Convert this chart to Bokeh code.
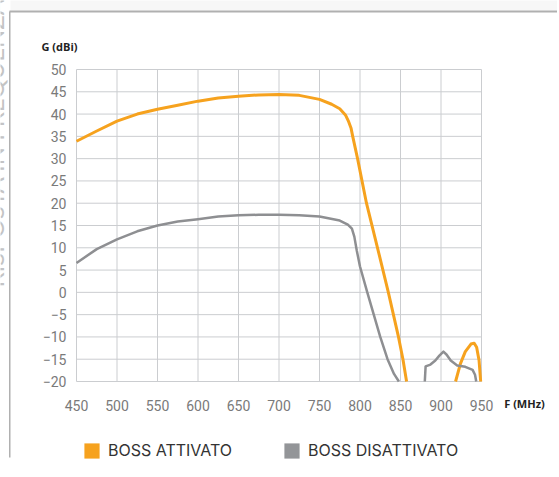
import math
from bokeh.plotting import figure
from bokeh.models import Range1d, FixedTicker, Legend, LegendItem, Label, BoxAnnotation
from bokeh.embed import file_html
from bokeh.resources import INLINE

nan = float("nan")

# BOSS ATTIVATO (orange) - frequency (MHz) / gain (dBi)
on_freq = [450, 475, 500, 525, 550, 575, 600, 625, 650, 675, 700, 725, 750, 765, 775, 782, 786, 789, 791,
           797, 808, 821.6, 835, 847.5, 853, 857.5, nan,
           918, 924, 930, 937, 941, 944, 947, 949]
on_gain = [33.9, 36.2, 38.4, 40.0, 41.1, 42.0, 42.9, 43.6, 44.0, 44.3, 44.4, 44.2, 43.3, 42.2, 41.2, 39.8, 38.3, 36.8, 35.0,
           30.0, 20.0, 10.0, 0.0, -10.0, -15.0, -20.0, nan,
           -20.0, -16.0, -13.3, -11.6, -11.4, -12.3, -15.3, -20.0]

# BOSS DISATTIVATO (grey)
off_freq = [450, 475, 500, 525, 550, 575, 600, 625, 650, 675, 700, 725, 750, 775, 785, 790, 793,
            796, 800, 809, 817, 825, 834, 842, 848, nan,
            880, 881, 887, 893, 898, 903, 907, 912, 920, 930, 939, 942, 943.5]
off_gain = [6.6, 9.7, 11.9, 13.7, 15.0, 15.9, 16.4, 17.0, 17.3, 17.4, 17.4, 17.3, 17.0, 16.1, 15.2, 14.3, 12.5,
            9.4, 5.8, 0.0, -5.0, -10.0, -15.0, -18.3, -20.0, nan,
            -20.0, -16.6, -16.2, -15.3, -14.2, -13.3, -14.0, -15.3, -16.4, -16.7, -17.4, -18.5, -20.0]

x_ticks = [450, 500, 550, 600, 650, 700, 750, 800, 850, 900, 950]
y_ticks = [-20, -15, -10, -5, 0, 5, 10, 15, 20, 25, 30, 35, 40, 45, 50]

series_names = ["BOSS ATTIVATO", "BOSS DISATTIVATO"]
x_title = "F (MHz)"
y_title = "G (dBi)"
side_title = "RISPOSTA IN FREQUENZA"

ORANGE = "#F6A21E"
GREY = "#8E8F92"
SWATCH_GREY = "#939598"
GRID = "#CBCDD0"
TICK = "#7A7A7A"

# ---- layout: the plotting frame covers the whole canvas; the chart box is placed in pixels
W, H = 557, 475
PX_L, PX_R = 76, 481      # pixel columns of the first / last x tick
PY_T, PY_B = 69, 381      # pixel rows of the top / bottom y tick
x0, x1 = x_ticks[0], x_ticks[-1]
y0, y1 = y_ticks[0], y_ticks[-1]
kx = (PX_R - PX_L) / (x1 - x0)
ky = (PY_B - PY_T) / (y1 - y0)


def px2x(px):
    return x0 + (px - PX_L) / kx


def py2y(py):
    return y1 - (py - PY_T) / ky


p = figure(width=W, height=H, output_backend="svg", toolbar_location=None,
           x_range=Range1d(px2x(0), px2x(W)), y_range=Range1d(py2y(H), py2y(0)),
           min_border=0, min_border_left=0, min_border_right=0, min_border_top=0, min_border_bottom=0)
p.outline_line_color = None
p.background_fill_color = "white"
p.border_fill_color = "white"
p.xgrid.visible = False
p.ygrid.visible = False

for ax in (p.xaxis[0], p.yaxis[0]):
    ax.axis_line_color = None
    ax.major_tick_line_color = None
    ax.minor_tick_line_color = None
    ax.major_tick_out = 0
    ax.major_tick_in = 0
    ax.minor_tick_out = 0
    ax.major_label_text_font = "Roboto"
    ax.major_label_text_font_size = "14px"
    ax.major_label_text_color = TICK
p.xaxis[0].ticker = FixedTicker(ticks=x_ticks)
p.yaxis[0].ticker = FixedTicker(ticks=y_ticks)
p.xaxis[0].fixed_location = y0
p.yaxis[0].fixed_location = x0
p.xaxis[0].bounds = (x0, x1)
p.yaxis[0].bounds = (y0, y1)
p.xaxis[0].major_label_standoff = 18
p.yaxis[0].major_label_standoff = 10

# grid lines, one per tick, limited to the chart box
p.segment(x0=x_ticks, y0=[y0] * len(x_ticks), x1=x_ticks, y1=[y1] * len(x_ticks),
          line_color=GRID, line_width=1)
p.segment(x0=[x0] * len(y_ticks), y0=y_ticks, x1=[x1] * len(y_ticks), y1=y_ticks,
          line_color=GRID, line_width=1)

p.line(on_freq, on_gain, line_color=ORANGE, line_width=3, line_join="round", line_cap="butt")
p.line(off_freq, off_gain, line_color=GREY, line_width=2.5, line_join="round", line_cap="butt")

# axis titles
p.add_layout(Label(x=px2x(59), y=py2y(46), text=y_title, text_font="Open Sans", text_font_style="bold",
                   text_font_size="11px", text_color="#222222", text_align="center", text_baseline="middle"))
p.add_layout(Label(x=px2x(524), y=py2y(403), text=x_title, text_font="Open Sans", text_font_style="bold",
                   text_font_size="11px", text_color="#222222", text_align="center", text_baseline="middle"))

# vertical page heading, mostly cut by the left edge
p.add_layout(Label(x=px2x(-6), y=py2y(287), text=side_title, angle=math.pi / 2, text_font="Lato",
                   text_font_size="24px", text_color="#C4C4C4", text_align="left",
                   text_baseline="alphabetic"))

# page box lines (top and left)
p.add_layout(BoxAnnotation(left=px2x(10), right=px2x(W + 5), top=py2y(-2), bottom=py2y(10),
                           fill_color="#F7F7F7", fill_alpha=1, line_color=None))
p.add_layout(BoxAnnotation(left=px2x(9), right=px2x(W + 5), top=py2y(10), bottom=py2y(12),
                           fill_color="#B0B0B0", fill_alpha=1, line_color=None))
p.add_layout(BoxAnnotation(left=px2x(8.5), right=px2x(10), top=py2y(11), bottom=py2y(457),
                           fill_color="#B0B0B0", fill_alpha=1, line_color=None))

# legend swatches (renderers with a single empty point, nothing drawn in the plot)
r_on = p.quad(left=[nan], right=[nan], top=[nan], bottom=[nan], fill_color=ORANGE, line_color=None)
r_off = p.quad(left=[nan], right=[nan], top=[nan], bottom=[nan], fill_color=SWATCH_GREY, line_color=None)

for name, rend, gx in ((series_names[0], r_on, 82), (series_names[1], r_off, 282)):
    lg = Legend(items=[LegendItem(label=name, renderers=[rend])], location=(gx, H - 460),
                orientation="horizontal", padding=0, margin=0, border_line_color=None,
                background_fill_alpha=0, glyph_width=19, glyph_height=19, label_height=19,
                label_standoff=7, label_text_font="Inter", label_text_font_size="16px",
                label_text_color="#333333", label_text_baseline="middle")
    p.add_layout(lg, "center")

open("out.html", "w").write(file_html(p, INLINE))
